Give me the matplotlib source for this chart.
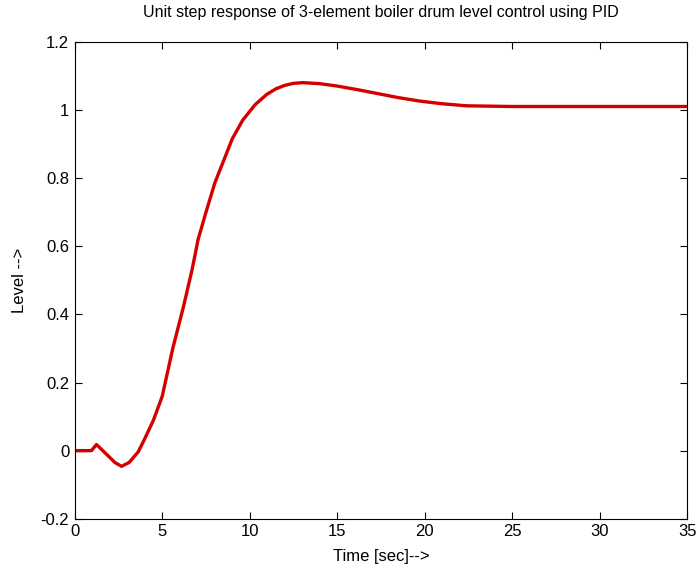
import matplotlib.pyplot as plt
import numpy as np

plt.rcParams.update({
    'font.family': ['Liberation Sans Narrow', 'Liberation Sans', 'DejaVu Sans'],
    'font.size': 11,
    'xtick.direction': 'in',
    'ytick.direction': 'in',
    'xtick.top': True,
    'ytick.right': True,
})

# step response
t = np.array([0, 0.95, 1.24, 1.8, 2.3, 2.67, 3.1, 3.62, 4.0, 4.5, 5.0,
              5.6, 6.2, 6.7, 7.05, 7.5, 8.0, 8.5, 9.0, 9.6, 10.3,
              10.96, 11.5, 12.0, 12.5, 13.05, 14.0, 15.0, 16.3, 17.5, 18.5,
              19.7, 21.0, 22.4, 25.0, 30.0, 35.0])
level = np.array([0, 0, 0.018, -0.01, -0.035, -0.046, -0.035, -0.004, 0.035, 0.09, 0.16,
                  0.30, 0.42, 0.53, 0.62, 0.70, 0.785, 0.85, 0.915, 0.97, 1.015,
                  1.045, 1.062, 1.072, 1.078, 1.08, 1.077, 1.07, 1.058, 1.046, 1.036,
                  1.026, 1.018, 1.012, 1.01, 1.01, 1.01])

xticks = np.arange(0, 36, 5)
yticks = [-0.2, 0, 0.2, 0.4, 0.6, 0.8, 1, 1.2]
ytick_labels = ['-0.2', '0', '0.2', '0.4', '0.6', '0.8', '1', '1.2']

fig = plt.figure(figsize=(6.99, 5.72), dpi=100)
ax = fig.add_axes([0.107, 0.093, 0.876, 0.834])

ax.plot(t, level, color='#d40000', linewidth=2.4)

ax.set_xlim(0, 35)
ax.set_ylim(-0.2, 1.2)
ax.set_xticks(xticks)
ax.set_yticks(yticks)
ax.set_yticklabels(ytick_labels)
ax.tick_params(length=5, width=0.8, labelsize=12, pad=4)

ax.set_title('Unit step response of 3-element boiler drum level control using PID',
             fontsize=11.5, pad=18)
ax.set_xlabel('Time [sec]-->', fontsize=12, labelpad=7)
ax.set_ylabel('Level -->', fontsize=12, labelpad=10)

plt.savefig('out.png', dpi=100)
